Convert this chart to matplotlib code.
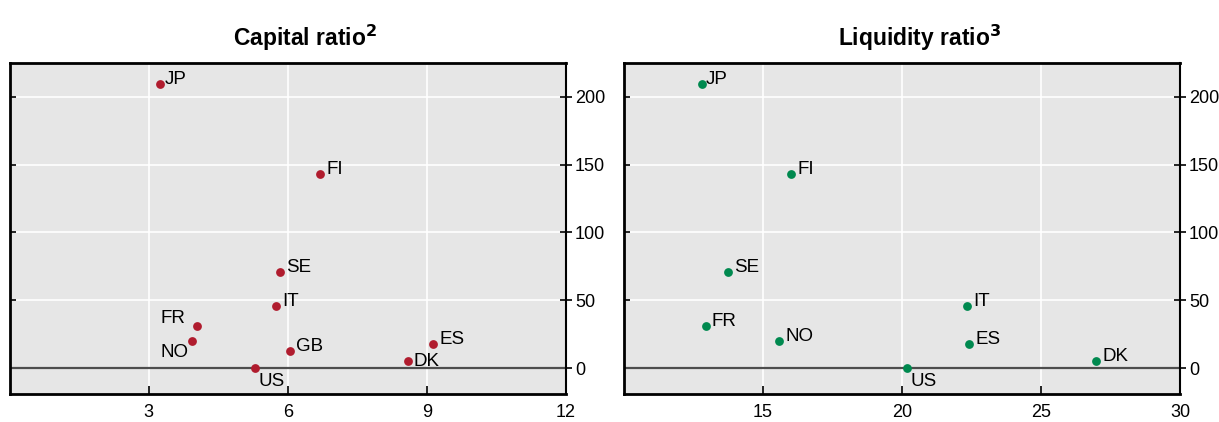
# two scatter panels: capital ratio and liquidity ratio vs. a common y value
import matplotlib
matplotlib.use('Agg')
import matplotlib.pyplot as plt
from matplotlib import lines

plt.rcParams['font.family'] = ['Liberation Sans', 'DejaVu Sans']

# capital ratio panel
cap_countries = ['JP', 'FI', 'SE', 'IT', 'FR', 'NO', 'GB', 'US', 'DK', 'ES']
cap_x = [3.25, 6.70, 5.84, 5.75, 4.04, 3.93, 6.04, 5.29, 8.60, 9.14]
cap_y = [209, 143, 71, 46, 31, 20, 13, 0, 5, 17.5]

# liquidity ratio panel
liq_countries = ['JP', 'FI', 'SE', 'FR', 'NO', 'IT', 'ES', 'US', 'DK']
liq_x = [12.8, 16.0, 13.74, 12.94, 15.58, 22.33, 22.41, 20.19, 26.98]
liq_y = [209, 143, 71, 31, 20, 46, 17.5, 0, 5]

cap_xticks = [3, 6, 9, 12]
liq_xticks = [15, 20, 25, 30]
yticks = [0, 50, 100, 150, 200]

# label offsets in points (dx, dy, ha); default is right of the dot, baseline at dot
cap_offsets = {'JP': (3, 0, 'left'),
               'FR': (-8, 2, 'right'),
               'NO': (-2.5, -11.5, 'right'),
               'US': (2.5, -12.5, 'left'),
               'DK': (4, -3.5, 'left')}
liq_offsets = {'JP': (3, 0, 'left'),
               'US': (2.5, -12.5, 'left')}

RED = '#b01c2e'
GREEN = '#00894f'
BG = '#e6e6e6'


def draw_panel(ax, xs, ys, names, color, xlim, xticks, title, offsets):
    ax.set_facecolor(BG)
    ax.scatter(xs, ys, s=40, color=color, zorder=3, linewidths=0)
    for x, y, name in zip(xs, ys, names):
        dx, dy, ha = offsets.get(name, (4.5, 0, 'left'))
        ax.annotate(name, (x, y), xytext=(dx, dy), textcoords='offset points',
                    ha=ha, va='baseline', fontsize=13.5, zorder=4)
    ax.axhline(0, color='#4d4d4d', lw=1.6, zorder=2)
    ax.set_xlim(xlim)
    ax.set_ylim(-19, 225)
    ax.set_xticks(xticks)
    ax.set_yticks(yticks)
    ax.grid(True, color='white', lw=1.2, zorder=0)
    ax.set_axisbelow(True)
    ax.tick_params(axis='y', which='both', left=True, right=True,
                   labelleft=False, labelright=True, direction='inout',
                   length=9, width=1.2, labelsize=13, pad=2)
    # left side ticks only point inwards
    for t in ax.yaxis.get_major_ticks():
        t.tick1line.set_marker(lines.TICKRIGHT)
        t.tick1line.set_markersize(4.5)
    ax.tick_params(axis='x', direction='in', length=6, width=1.2,
                   labelsize=13, pad=7)
    for side in ['left', 'top', 'bottom', 'right']:
        ax.spines[side].set_linewidth(2)
        ax.spines[side].set_color('black')
    ax.spines['right'].set_linewidth(1.5)
    # title is centred over plot area plus the right-hand tick labels
    ax.set_title(title, fontsize=16.5, fontweight='bold', pad=12, x=0.532)


fig = plt.figure(figsize=(12.19, 4.22), dpi=100)
ax1 = fig.add_axes([0.0078, 0.0664, 0.4565, 0.785])
ax2 = fig.add_axes([0.5119, 0.0664, 0.4561, 0.785])

draw_panel(ax1, cap_x, cap_y, cap_countries, RED, (0, 12), cap_xticks,
           r'Capital ratio$^\mathbf{2}$', cap_offsets)
draw_panel(ax2, liq_x, liq_y, liq_countries, GREEN, (10, 30), liq_xticks,
           r'Liquidity ratio$^\mathbf{3}$', liq_offsets)

fig.savefig('out.png', dpi=100)
